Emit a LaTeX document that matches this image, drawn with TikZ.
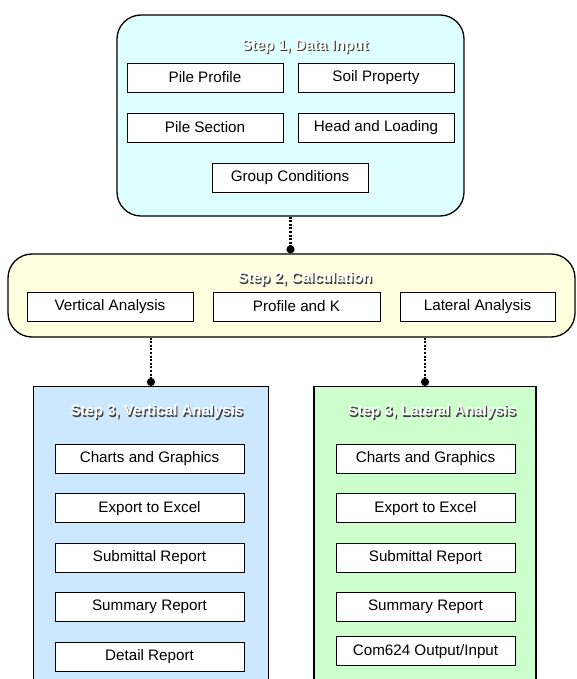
\documentclass[tikz,border=0pt]{standalone}
\usepackage{fontspec}
\setmainfont{Liberation Sans}[BoldFont={Liberation Sans Bold}]
\usetikzlibrary{positioning, arrows.meta}
\definecolor{inputfill}{HTML}{DDFFFF}
\definecolor{calcfill}{HTML}{FFFFE0}
\definecolor{vertfill}{HTML}{CCE8FF}
\definecolor{latfill}{HTML}{CCFFCC}
\tikzset{
    stepgroup/.style={draw, line width=1.3pt, inner sep=0pt}, % the big step frames
    roundgroup/.style={stepgroup, rounded corners=24pt},
    itembox/.style={draw, fill=white, line width=0.9pt, inner sep=0pt, minimum height=29pt,
        font=\fontsize{15.2}{18}\selectfont},
    steptitle/.style={text=white, font=\fontsize{15}{18}\selectfont\bfseries, inner sep=0pt},
    titleshadow/.style={steptitle, text=black!75, xshift=1.2pt, yshift=-1.2pt},
    link/.style={line width=2.2pt, dash pattern=on 2pt off 1.6pt, -{Circle[length=8pt]}},
}
\begin{document}
\begin{tikzpicture}[x=1pt, y=-1pt]
    \clip (0,0) rectangle (576,679);
    % step 1
    \node[roundgroup, fill=inputfill, minimum width=347pt, minimum height=201pt] (s1) at (290.5,115.5) {};
    \node[titleshadow] (t1s) at (305,47) {Step 1, Data Input};
    \node[steptitle] (t1) at (305,47) {Step 1, Data Input};
    \node[itembox, minimum width=156pt] (pp) at (205,77.5) {Pile Profile};
    \node[itembox, minimum width=156pt] (sp) at (376,77.5) {Soil Property};
    \node[itembox, minimum width=156pt] (ps) at (205,127.5) {Pile Section};
    \node[itembox, minimum width=156pt] (hl) at (376,127.5) {Head and Loading};
    \node[itembox, minimum width=156pt] (gc) at (290,177.5) {Group Conditions};
    % step 2
    \node[roundgroup, fill=calcfill, minimum width=567pt, minimum height=83pt] (s2) at (291.5,295.5) {};
    \node[titleshadow] (t2s) at (305,279) {Step 2, Calculation};
    \node[steptitle] (t2) at (305,279) {Step 2, Calculation};
    \node[itembox, minimum width=166pt] (va) at (110,306.5) {Vertical Analysis};
    \node[itembox, minimum width=167pt] (pk) at (296.5,306.5) {Profile and K};
    \node[itembox, minimum width=155pt] (la) at (477.5,306.5) {Lateral Analysis};
    % step 3, vertical
    \node[stepgroup, fill=vertfill, minimum width=235pt, minimum height=310pt, anchor=north] (s3v) at (151,386) {};
    \node[titleshadow] (t3vs) at (157,412) {Step 3, Vertical Analysis};
    \node[steptitle] (t3v) at (157,412) {Step 3, Vertical Analysis};
    \node[itembox, minimum width=189pt] (vc) at (149.5,459) {Charts and Graphics};
    \node[itembox, minimum width=189pt, below=19.5pt of vc] (ve) {Export to Excel};
    \node[itembox, minimum width=189pt, below=19.5pt of ve] (vs) {Submittal Report};
    \node[itembox, minimum width=189pt, below=19.5pt of vs] (vm) {Summary Report};
    \node[itembox, minimum width=189pt, below=19.5pt of vm] (vd) {Detail Report};
    % step 3, lateral
    \node[stepgroup, fill=latfill, minimum width=222pt, minimum height=310pt, anchor=north] (s3l) at (425,386) {};
    \node[titleshadow] (t3ls) at (432,412) {Step 3, Lateral Analysis};
    \node[steptitle] (t3l) at (432,412) {Step 3, Lateral Analysis};
    \node[itembox, minimum width=179pt] (lc) at (425.5,459) {Charts and Graphics};
    \node[itembox, minimum width=179pt, below=19.5pt of lc] (le) {Export to Excel};
    \node[itembox, minimum width=179pt, below=19.5pt of le] (ls) {Submittal Report};
    \node[itembox, minimum width=179pt, below=19.5pt of ls] (lm) {Summary Report};
    \node[itembox, minimum width=179pt, below=14pt of lm] (lo) {Com624 Output/Input};
    % links
    \draw[link] (s1.south) -- (s1.south |- s2.north);
    \draw[link] (s3v.north |- s2.south) -- (s3v.north);
    \draw[link] (s3l.north |- s2.south) -- (s3l.north);
\end{tikzpicture}
\end{document}
